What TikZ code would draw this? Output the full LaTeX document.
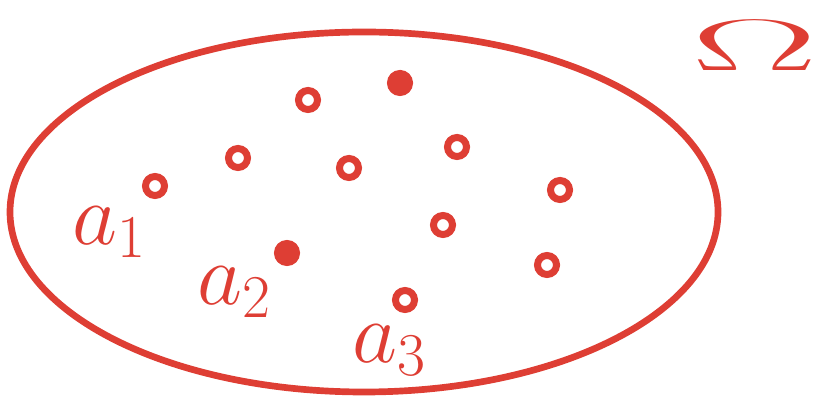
\documentclass[tikz,border=0pt]{standalone}
\definecolor{pen}{RGB}{222,62,52}
\tikzset{pt/.style={circle, draw=pen, line width=2pt, inner sep=0pt, minimum size=1.9mm}}
\tikzset{lab/.style={text=pen, font=\fontsize{26}{30}\selectfont}}
\begin{document}
\begin{tikzpicture}[x=0.01cm, y=-0.01cm]
\useasboundingbox (0,0) rectangle (834,404);
\draw[pen, line width=1.9pt] (364,212) ellipse [x radius=354, y radius=180];
% points of Omega
\node[pt, fill=pen] (p1) at (400,83) {};
\node[pt] (p2) at (308,100) {};
\node[pt] (p3) at (238,158) {};
\node[pt] (p4) at (349,168) {};
\node[pt] (p5) at (457,147) {};
\node[pt] (p6) at (560,190) {};
\node[pt] (p7) at (155,186) {};
\node[pt] (p8) at (443,225) {};
\node[pt, fill=pen] (p9) at (287,253) {};
\node[pt] (p10) at (547,265) {};
\node[pt] (p11) at (405,300) {};
\node[lab] (a1) at (110,232) {$a_1$};
\node[lab] (a2) at (235,292) {$a_2$};
\node[lab] (a3) at (390,350) {$a_3$};
\node[lab, font=\fontsize{20}{24}\selectfont] (om) at (755,46) {\scalebox{2.6}[1]{$\Omega$}};
\end{tikzpicture}
\end{document}
